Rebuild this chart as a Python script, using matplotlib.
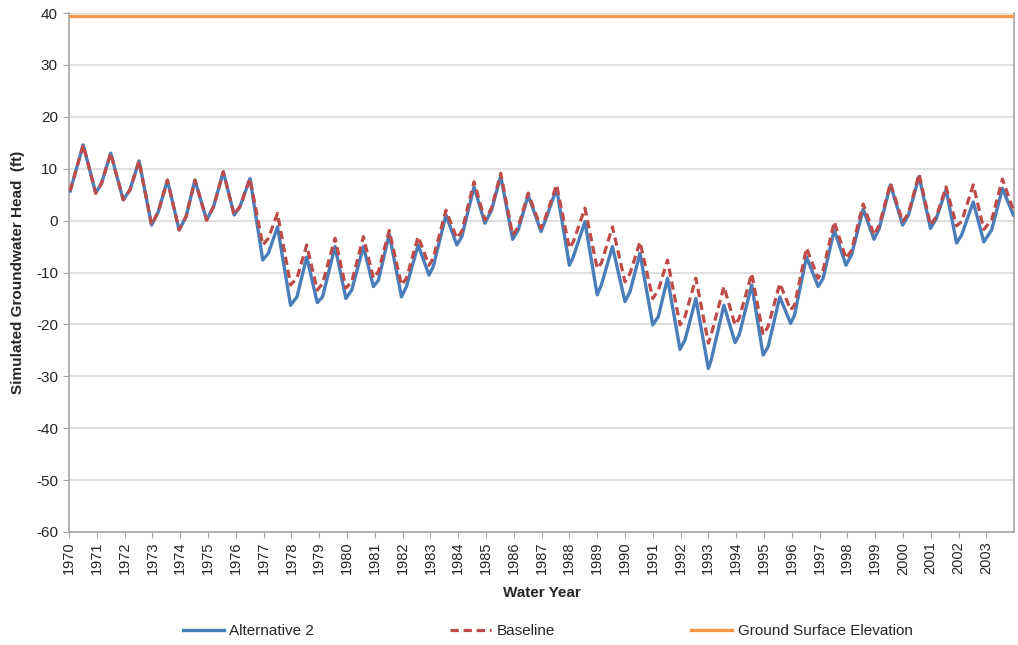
import matplotlib
matplotlib.use("Agg")
import matplotlib.pyplot as plt

plt.rcParams['font.family'] = ['Liberation Sans', 'DejaVu Sans']

dates = [
    1970.04, 1970.51,
    1970.96, 1971.17, 1971.50,
    1971.95, 1972.19, 1972.52,
    1972.97, 1973.21, 1973.54,
    1973.96, 1974.21, 1974.53,
    1974.95, 1975.20, 1975.55,
    1975.94, 1976.15, 1976.51,
    1976.97, 1977.17, 1977.50,
    1977.97, 1978.20, 1978.55,
    1978.93, 1979.12, 1979.57,
    1979.96, 1980.17, 1980.59,
    1980.95, 1981.13, 1981.52,
    1981.96, 1982.14, 1982.56,
    1982.95, 1983.10, 1983.56,
    1983.95, 1984.13, 1984.57,
    1984.96, 1985.20, 1985.53,
    1985.96, 1986.16, 1986.52,
    1986.98, 1987.12, 1987.54,
    1988.00, 1988.14, 1988.56,
    1989.00, 1989.15, 1989.55,
    1990.00, 1990.18, 1990.54,
    1991.00, 1991.20, 1991.53,
    1991.98, 1992.16, 1992.55,
    1993.00, 1993.10, 1993.56,
    1993.96, 1994.11, 1994.56,
    1994.97, 1995.15, 1995.57,
    1995.96, 1996.10, 1996.53,
    1996.95, 1997.13, 1997.53,
    1997.95, 1998.15, 1998.57,
    1998.96, 1999.15, 1999.55,
    1999.99, 2000.20, 2000.58,
    2000.99, 2001.20, 2001.55,
    2001.93, 2002.11, 2002.53,
    2002.91, 2003.19, 2003.58,
    2003.97,
]

alternative_2 = [
    5.7, 14.6,
    5.3, 7.2, 13.0,
    4.0, 5.9, 11.5,
    -0.85, 1.7, 7.8,
    -1.8, 0.75, 7.8,
    0.1, 2.7, 9.4,
    1.1, 2.7, 8.1,
    -7.6, -6.3, -1.2,
    -16.3, -14.7, -7.0,
    -15.8, -14.7, -5.0,
    -15.0, -13.4, -5.0,
    -12.7, -11.5, -2.6,
    -14.7, -12.7, -4.7,
    -10.5, -8.9, 1.1,
    -4.7, -3.1, 6.5,
    -0.5, 2.0, 8.6,
    -3.6, -1.8, 4.9,
    -2.1, -0.2, 6.2,
    -8.6, -7.0, -0.2,
    -14.3, -12.4, -5.0,
    -15.6, -13.7, -6.3,
    -20.1, -18.5, -11.1,
    -24.8, -23.0, -15.0,
    -28.5, -26.9, -16.3,
    -23.5, -22.0, -12.4,
    -25.9, -24.3, -14.7,
    -19.8, -18.2, -7.0,
    -12.7, -11.1, -1.8,
    -8.6, -6.6, 2.2,
    -3.6, -1.5, 6.9,
    -0.85, 1.1, 8.5,
    -1.5, 0.4, 6.0,
    -4.3, -2.8, 3.6,
    -4.1, -1.8, 6.2,
    1.1,
]

baseline = [
    5.7, 14.6,
    5.3, 7.2, 13.0,
    4.0, 5.9, 11.5,
    -0.85, 1.7, 7.8,
    -1.8, 0.75, 7.8,
    0.1, 2.7, 9.4,
    1.1, 2.7, 8.1,
    -4.7, -3.4, 1.4,
    -12.4, -11.1, -4.7,
    -13.4, -12.1, -3.4,
    -13.0, -11.8, -3.1,
    -11.1, -9.8, -1.9,
    -12.4, -11.1, -3.1,
    -8.6, -7.3, 2.0,
    -3.4, -2.1, 7.5,
    0.1, 2.4, 9.1,
    -2.8, -1.2, 5.3,
    -1.5, 0.3, 6.9,
    -5.3, -4.1, 2.4,
    -9.2, -8.2, -1.2,
    -11.8, -10.2, -4.1,
    -15.0, -13.4, -7.6,
    -20.1, -18.5, -11.1,
    -23.6, -22.0, -12.7,
    -20.1, -18.8, -10.2,
    -22.0, -20.4, -12.1,
    -17.2, -16.3, -5.3,
    -11.1, -9.5, -0.2,
    -7.3, -5.7, 3.2,
    -2.8, -0.85, 7.2,
    -0.2, 1.4, 9.0,
    -0.85, 0.75, 6.5,
    -1.0, -0.2, 6.9,
    -1.7, 0.1, 8.0,
    2.0,
]

ground_surface_elevation = 39.4
gse_dates = [1970.0, 2004.0]

year_ticks = list(range(1970, 2004))
y_ticks = list(range(-60, 41, 10))

fig = plt.figure(figsize=(10.18, 6.45), dpi=100)
ax = fig.add_axes([0.0678, 0.1752, 0.9284, 0.8046])

grid_c = '#D9D9D9'
spine_c = '#A6A6A6'
text_c = '#262626'

for yt in y_ticks:
    ax.axhline(yt, color=grid_c, lw=1.2, zorder=0)

ax.plot(dates, alternative_2, color='#4A7EBB', lw=2.4, label='Alternative 2', zorder=3,
        solid_joinstyle='round')
ax.plot(dates, baseline, color='#BE4B48', lw=2.3, ls=(0, (2.6, 1.5)), label='Baseline', zorder=4)
ax.plot(gse_dates, [ground_surface_elevation] * 2, color='#F79646', lw=2.4,
        label='Ground Surface Elevation', zorder=5)

ax.set_xlim(1970, 2004)
ax.set_ylim(-60, 40)
ax.set_xticks(year_ticks)
ax.set_xticklabels([str(y) for y in year_ticks], rotation=90, fontsize=10.5, color=text_c)
ax.set_yticks(y_ticks)
ax.set_yticklabels([str(v) for v in y_ticks], fontsize=11, color=text_c)
ax.tick_params(axis='x', direction='out', length=4, color=spine_c, pad=3)
ax.tick_params(axis='y', direction='out', length=4, color=spine_c, pad=4)

for s in ['left', 'bottom', 'right']:
    ax.spines[s].set_color(spine_c)
    ax.spines[s].set_linewidth(1.2)
ax.spines['top'].set_visible(False)

fig.text(0.0177, 0.5775, 'Simulated Groundwater Head  (ft)', rotation=90, ha='center',
         va='center', fontsize=11, fontweight='bold', color=text_c)
fig.text(0.532, 0.0806, 'Water Year', ha='center', va='center', fontsize=11,
         fontweight='bold', color=text_c)

fig.legend(loc='center', bbox_to_anchor=(0.538, 0.0217), ncol=3, frameon=False,
           fontsize=11, handlelength=2.7, handletextpad=0.35, columnspacing=8.9,
           labelcolor=text_c)

fig.savefig('out.png', dpi=100)
